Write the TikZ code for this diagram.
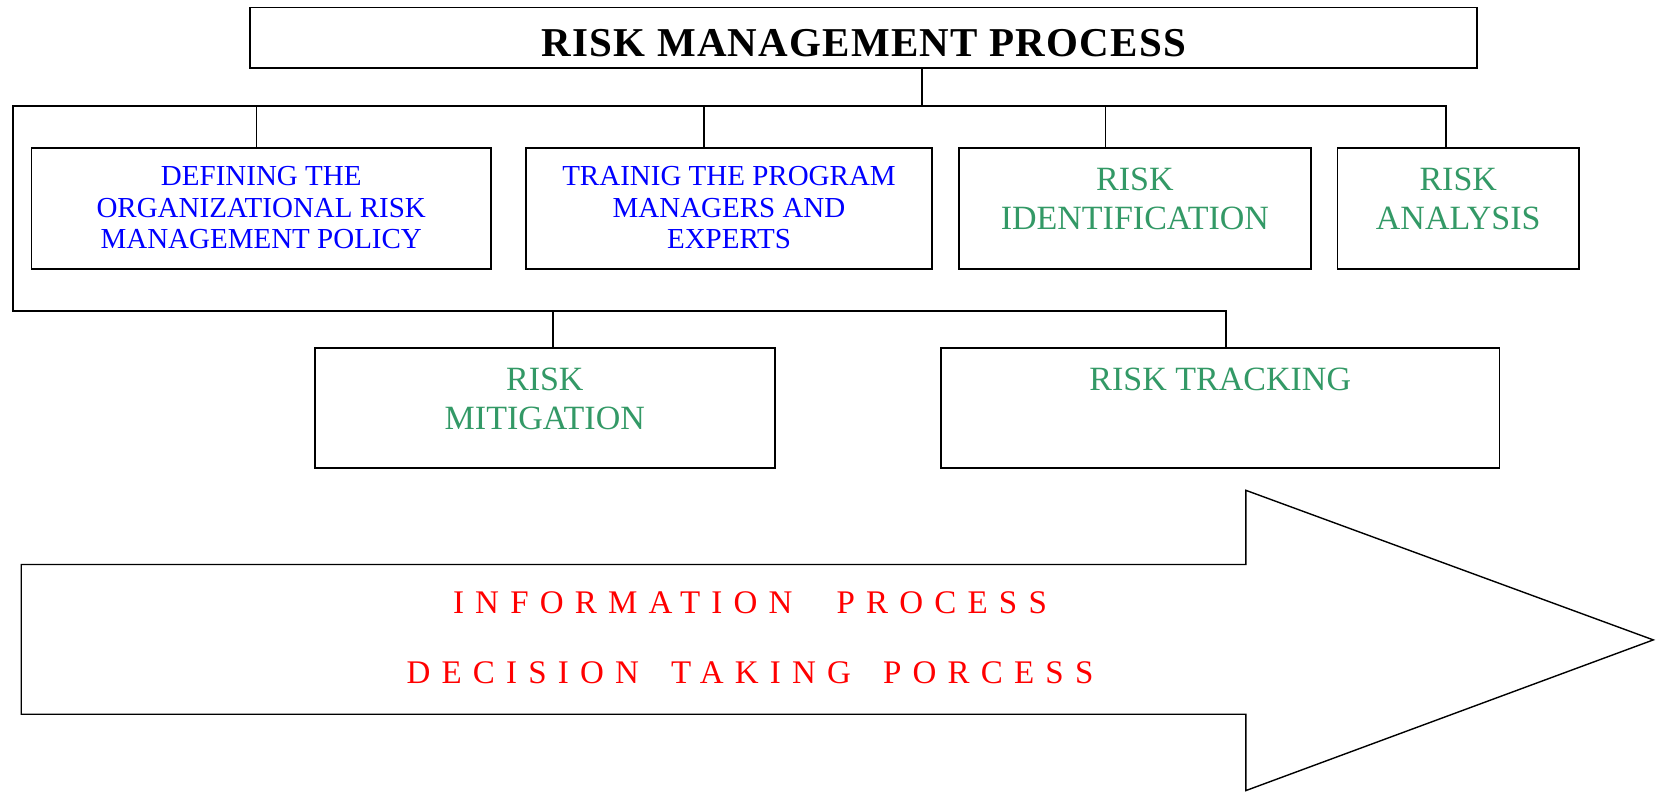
\documentclass[tikz,border=0pt]{standalone}
\usepackage{fontspec}
\setmainfont{Liberation Serif}
\newfontfamily\spacedfont[LetterSpace=34]{Liberation Serif}
\newfontfamily\widefont[LetterSpace=3]{Liberation Serif}
\usepackage{tikz}
\usetikzlibrary{positioning}
\definecolor{riskgreen}{HTML}{339966}
\tikzstyle{stepbox} = [draw, line width=0.9pt, inner sep=0pt]
\tikzstyle{bus} = [line width=0.9pt]
\tikzstyle{drop} = [line width=0.6pt]
\tikzstyle{bluetxt} = [align=center, inner sep=0pt, text=blue, font=\fontsize{14.5}{15.85}\selectfont]
\tikzstyle{greentxt} = [align=center, inner sep=0pt, text=riskgreen, font=\fontsize{17}{19.5}\selectfont]
\tikzstyle{redtxt} = [align=center, inner sep=0pt, text=red, font=\spacedfont\fontsize{16.5}{35}\selectfont]

\begin{document}
\begin{tikzpicture}[x=0.5pt, y=-0.5pt]
	\useasboundingbox (0,0) rectangle (1664,792);
	% title
	\node[stepbox, minimum width=613.5pt, minimum height=30.1pt, text height=19pt, text depth=0pt, font=\widefont\bfseries\fontsize{20.5}{24}\selectfont] (title) at (863.8,37.6) {RISK MANAGEMENT PROCESS};
	% first row
	\node[stepbox, minimum width=229.75pt, minimum height=60.2pt] (defining) at (261.25,208.5) {};
	\node[bluetxt, below=9.2pt of defining.north] (definingtxt) {DEFINING THE\\ORGANIZATIONAL RISK\\MANAGEMENT POLICY};
	\node[stepbox, minimum width=202.7pt, minimum height=60.2pt] (training) at (729,208.5) {};
	\node[bluetxt, below=9.2pt of training.north] (trainingtxt) {TRAINIG THE PROGRAM\\MANAGERS AND\\EXPERTS};
	\node[stepbox, minimum width=175.85pt, minimum height=60.2pt] (ident) at (1134.85,208.5) {};
	\node[greentxt, below=10pt of ident.north] (identtxt) {RISK\\IDENTIFICATION};
	\node[stepbox, minimum width=120.75pt, minimum height=60.2pt] (analysis) at (1458.25,208.5) {};
	\node[greentxt, below=10pt of analysis.north] (analysistxt) {RISK\\ANALYSIS};
	% second row
	\node[stepbox, minimum width=229.8pt, minimum height=60pt] (mitigation) at (544.8,408) {};
	\node[greentxt, below=10pt of mitigation.north] (mitigationtxt) {RISK\\MITIGATION};
	\node[stepbox, minimum width=279.25pt, minimum height=60pt] (tracking) at (1220.25,408) {};
	\node[greentxt, below=10pt of tracking.north] (trackingtxt) {RISK TRACKING};
	% connectors
	\coordinate (hub) at (921.7,106);
	\coordinate (corner) at (12.7,106);
	\coordinate (low) at (12.7,311);
	\coordinate (d1) at (256.7,106);
	\coordinate (d2) at (704,106);
	\coordinate (d3) at (1105.4,106);
	\coordinate (d4) at (1446,106);
	\coordinate (d5) at (552.9,311);
	\coordinate (d6) at (1225.6,311);
	\draw[bus] (title.south -| hub) -- (hub);
	\draw[bus] (analysis.north -| d4) -- (d4) -- (corner) -- (low) -- (d6) -- (tracking.north -| d6);
	\draw[drop] (d1) -- (defining.north -| d1);
	\draw[drop] (d2) -- (training.north -| d2);
	\draw[drop] (d3) -- (ident.north -| d3);
	\draw[drop] (d5) -- (mitigation.north -| d5);
	% big arrow
	\draw[line width=0.7pt] (21.2,564.5) -- (1245.8,564.5) -- (1245.8,490.3) -- (1653.3,639.9) -- (1245.8,790.6) -- (1245.8,714.2) -- (21.2,714.2) -- cycle;
	\node[redtxt, anchor=north] (flow) at (750,591.7) {INFORMATION\hspace{22pt}PROCESS\\DECISION\hspace{16pt}TAKING\hspace{16pt}PORCESS};
\end{tikzpicture}
\end{document}
